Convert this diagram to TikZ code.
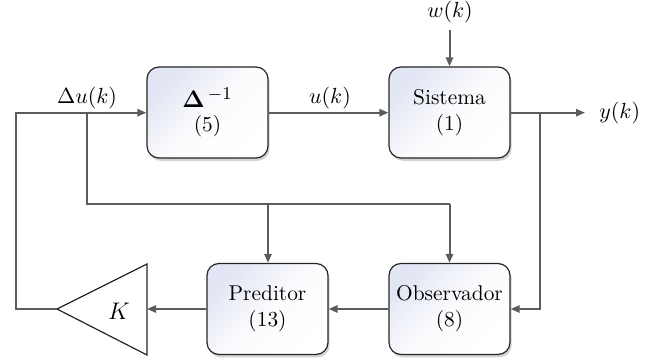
\documentclass[tikz,border=0pt]{standalone}
\usepackage{amsmath}
\usetikzlibrary{arrows.meta,shadows}
\definecolor{boxtop}{HTML}{E2E5F3}
\definecolor{wirec}{HTML}{5C5C5C}
\begin{document}
\begin{tikzpicture}[x=0.5pt,y=-0.5pt,
  font=\fontsize{10.7}{13}\selectfont,
  blk/.style={draw=black!85,line width=0.6pt,rounded corners=6pt,
    minimum width=60.5pt,minimum height=45.5pt,align=center,inner sep=1pt,
    top color=boxtop,bottom color=white,middle color=white!85!boxtop,shading angle=45,
    drop shadow={shadow xshift=0.8pt,shadow yshift=-1.4pt,opacity=0.35}},
  wire/.style={draw=wirec,line width=1pt},
  arr/.style={wire,-{Triangle[length=4.5pt,width=3.6pt]}},
  lbl/.style={inner sep=1pt}]
\useasboundingbox (0,0) rectangle (646,362);
% blocks
\node[blk] (D) at (207.5,112.5) {{\fontsize{13}{15}\selectfont$\mathbf{\Delta}^{\,-1}$}\\[-1pt](5)};
\node[blk] (S) at (449.5,112.5) {Sistema\\(1)};
\node[blk] (P) at (267.5,309) {Preditor\\(13)};
\node[blk] (O) at (449.5,309) {Observador\\(8)};
% gain triangle
\coordinate (Ktip) at (57,309);
\coordinate (Ktop) at (147,264);
\coordinate (Kbot) at (147,355);
\coordinate (Kin) at (147,309);
\draw[black!85,line width=0.6pt] (Ktip) -- (Ktop) -- (Kbot) -- cycle;
\node (K) at (119,311) {\fontsize{12}{14}\selectfont$K$};
% labels
\node[lbl] (du) at (87,98) {$\Delta u(k)$};
\node[lbl] (u) at (330,98) {$u(k)$};
\node[lbl] (w) at (450,12) {$w(k)$};
\node[lbl,anchor=west] (y) at (597,113) {$y(k)$};
% coordinates
\coordinate (L1) at (16,112.7);
\coordinate (L2) at (16,309);
\coordinate (B1) at (86.7,112.7);
\coordinate (B2) at (86.7,204);
\coordinate (B3) at (268,204);
\coordinate (B4) at (449.5,204);
\coordinate (Y1) at (540,112.7);
\coordinate (Y2) at (540,309);
\coordinate (Yend) at (585,112.7);
\coordinate (Wtop) at (449.5,30);
% wires
\draw[arr] (Ktip) -- (L2) -- (L1) -- (D.west |- L1);
\draw[arr] (D.east |- L1) -- (S.west |- L1);
\draw[arr] (Wtop) -- (S.north);
\draw[arr] (S.east |- L1) -- (Yend);
\draw[arr] (Y1) -- (Y2) -- (O.east |- Y2);
\draw[arr] (O.west |- Y2) -- (P.east |- Y2);
\draw[arr] (P.west |- Y2) -- (Kin);
\draw[wire] (B1) -- (B2) -- (B4);
\draw[arr] (B4) -- (O.north);
\draw[arr] (B3) -- (P.north -| B3);
\end{tikzpicture}
\end{document}
